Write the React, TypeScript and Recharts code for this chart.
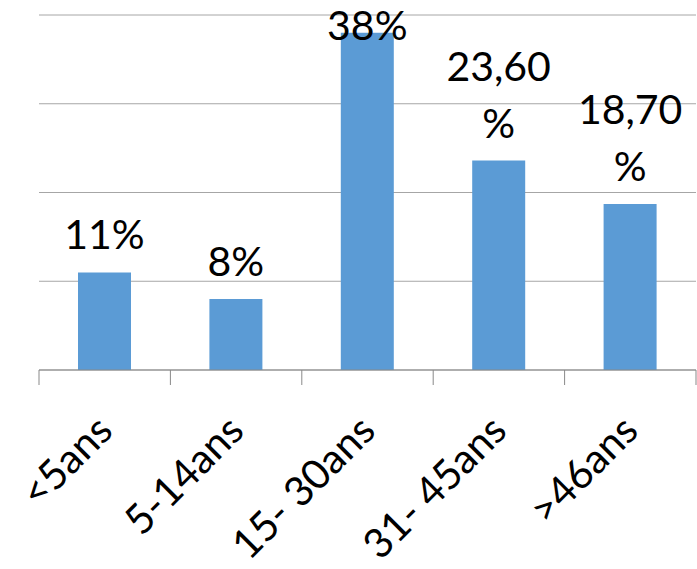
import { Bar, BarChart, CartesianGrid, LabelList, XAxis, YAxis } from 'recharts';

const categories = ['<5ans', '5-14ans', '15- 30ans', '31- 45ans', '>46ans'];
const shares = [11, 8, 38, 23.6, 18.7];
const shareLabels = ['11%', '8%', '38%', '23,60 %', '18,70 %'];
const yTicks = [0, 10, 20, 30, 40];

const data = categories.map((name, i) => ({ name, share: shares[i], label: shareLabels[i] }));

const WIDTH = 697;
const HEIGHT = 569;
const MARGIN = { top: 15, right: 1, left: 39, bottom: 0 };
const AXIS_HEIGHT = 199;
const PLOT_BOTTOM = HEIGHT - MARGIN.bottom - AXIS_HEIGHT;
const BAND = (WIDTH - MARGIN.left - MARGIN.right) / categories.length;
const FONT = 'Lato, "Noto Sans", sans-serif';

function CategoryTick(props: any) {
  const { x, payload, index } = props;
  const last = index === categories.length - 1;
  const ax = x + 10;
  const ay = PLOT_BOTTOM + 63;
  return (
    <g>
      <line x1={x - BAND / 2} x2={x - BAND / 2} y1={PLOT_BOTTOM} y2={PLOT_BOTTOM + 15} stroke="#898989" />
      {last && <line x1={x + BAND / 2} x2={x + BAND / 2} y1={PLOT_BOTTOM} y2={PLOT_BOTTOM + 15} stroke="#898989" />}
      <text
        x={ax}
        y={ay}
        textAnchor="end"
        transform={`rotate(-45, ${ax}, ${ay})`}
        fontFamily={FONT}
        fontSize={41}
        fill="#000"
      >
        {payload.value}
      </text>
    </g>
  );
}

function ShareLabel(props: any) {
  const { x, y, width, value } = props;
  const lines = String(value).split(' ');
  const cx = x + width / 2;
  const base = Math.max(y - 23, 40);
  return (
    <text textAnchor="middle" fontFamily={FONT} fontSize={41} fill="#000">
      {lines.map((line, i) => (
        <tspan key={i} x={cx} y={base - (lines.length - 1 - i) * 57}>
          {line}
        </tspan>
      ))}
    </text>
  );
}

function gridRows(args: any) {
  const scale = args?.yAxis?.scale;
  if (typeof scale === 'function') return yTicks.map((v) => scale(v));
  if (scale && typeof scale.map === 'function') return yTicks.map((v) => scale.map(v));
  return [];
}

export default function App() {
  return (
    <div style={{ position: 'absolute', left: 0, top: 0, background: '#fff' }}>
      <BarChart width={WIDTH} height={HEIGHT} data={data} margin={MARGIN}>
        <YAxis domain={[0, 40]} ticks={yTicks} width={0} tick={false} axisLine={false} tickLine={false} />
        <CartesianGrid vertical={false} stroke="#a6a6a6" horizontalCoordinatesGenerator={gridRows} />
        <XAxis
          dataKey="name"
          interval={0}
          height={AXIS_HEIGHT}
          axisLine={{ stroke: '#898989' }}
          tickLine={false}
          tick={<CategoryTick />}
        />
        <Bar dataKey="share" fill="#5b9bd5" barSize={53} isAnimationActive={false}>
          <LabelList dataKey="label" content={<ShareLabel />} />
        </Bar>
      </BarChart>
    </div>
  );
}
